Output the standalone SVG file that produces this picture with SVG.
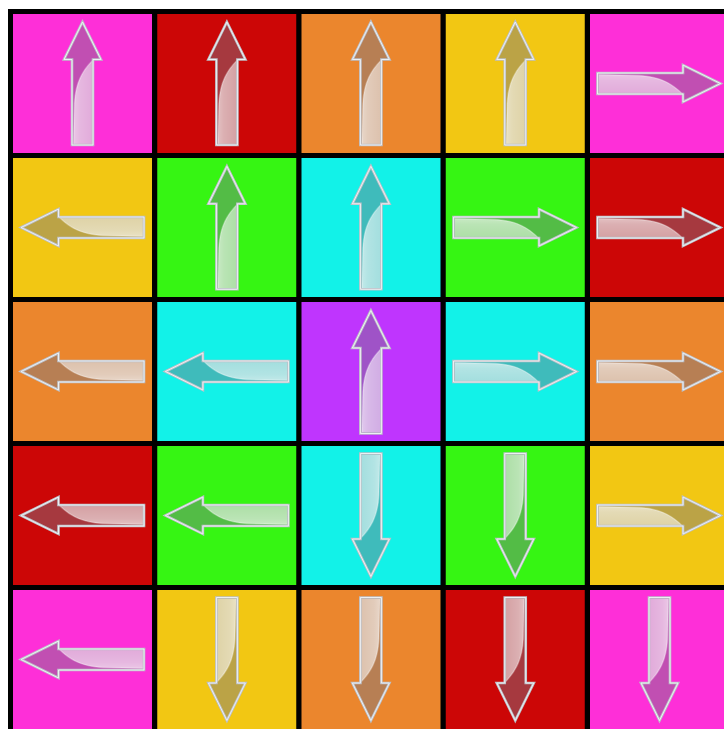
<svg xmlns="http://www.w3.org/2000/svg" xmlns:xlink="http://www.w3.org/1999/xlink" width="724" height="729" viewBox="0 0 724 729">
<style>
.mg{fill:#FE2FD8}.rd{fill:#CC0606}.or{fill:#EB862D}.ye{fill:#F2C713}.gr{fill:#36F513}.cy{fill:#12F2E8}.pu{fill:#BF35FE}
</style>
<defs>
<linearGradient id="hl" x1="0" y1="0" x2="1" y2="0">
<stop offset="0" stop-color="#fff" stop-opacity="0.68"/>
<stop offset="0.3" stop-color="#fff" stop-opacity="0.6"/>
<stop offset="1" stop-color="#fff" stop-opacity="0.52"/>
</linearGradient>
<g id="arrow">
<path d="M0,-61.5 L18.5,-24 L10.5,-24 L10.5,61.5 L-10.5,61.5 L-10.5,-24 L-18.5,-24 Z" fill="#787886" fill-opacity="0.45"/>
<path d="M10.5,-23.5 C1,-14 -7,-2 -8,20 L-9,60.5 L10.5,60.5 Z" fill="url(#hl)"/>
<path d="M10.5,-23.5 C1,-14 -7,-2 -8,20 L-9,60.5" fill="none" stroke="#fff" stroke-opacity="0.3" stroke-width="1.5"/>
<path d="M0,-61.5 L18.5,-24 L10.5,-24 L10.5,61.5 L-10.5,61.5 L-10.5,-24 L-18.5,-24 Z" fill="none" stroke="#bcc0c8" stroke-width="2.6" stroke-linejoin="miter"/>
<path d="M0,-61.5 L18.5,-24 L10.5,-24 L10.5,61.5 L-10.5,61.5 L-10.5,-24 L-18.5,-24 Z" fill="none" stroke="#f2f4f6" stroke-width="0.9" stroke-linejoin="miter"/>
</g>
</defs>
<rect x="0" y="0" width="724" height="729" fill="#fff"/>
<rect x="8" y="9" width="716" height="720" fill="#000"/>
<g id="cells">
<g id="c00"><rect class="mg" x="13" y="14" width="139" height="139"/><use xlink:href="#arrow" transform="translate(82.5,83.5)"/></g>
<g id="c01"><rect class="rd" x="157.25" y="14" width="139" height="139"/><use xlink:href="#arrow" transform="translate(226.9,83.5)"/></g>
<g id="c02"><rect class="or" x="301.5" y="14" width="139" height="139"/><use xlink:href="#arrow" transform="translate(370.9,83.5)"/></g>
<g id="c03"><rect class="ye" x="445.75" y="14" width="139" height="139"/><use xlink:href="#arrow" transform="translate(515.25,83.5)"/></g>
<g id="c04"><rect class="mg" x="590" y="14" width="134" height="139"/><use xlink:href="#arrow" transform="translate(659,83.5) rotate(90)"/></g>

<g id="c10"><rect class="ye" x="13" y="158" width="139" height="139"/><use xlink:href="#arrow" transform="translate(82.5,227.5) rotate(-90)"/></g>
<g id="c11"><rect class="gr" x="157.25" y="158" width="139" height="139"/><use xlink:href="#arrow" transform="translate(226.9,227.8)"/></g>
<g id="c12"><rect class="cy" x="301.5" y="158" width="139" height="139"/><use xlink:href="#arrow" transform="translate(370.9,227.8)"/></g>
<g id="c13"><rect class="gr" x="445.75" y="158" width="139" height="139"/><use xlink:href="#arrow" transform="translate(515,227.5) rotate(90)"/></g>
<g id="c14"><rect class="rd" x="590" y="158" width="134" height="139"/><use xlink:href="#arrow" transform="translate(659,227.5) rotate(90)"/></g>

<g id="c20"><rect class="or" x="13" y="302" width="139" height="139"/><use xlink:href="#arrow" transform="translate(82.5,371.5) rotate(-90)"/></g>
<g id="c21"><rect class="cy" x="157.25" y="302" width="139" height="139"/><use xlink:href="#arrow" transform="translate(226.9,371.5) rotate(-90)"/></g>
<g id="c22"><rect class="pu" x="301.5" y="302" width="139" height="139"/><use xlink:href="#arrow" transform="translate(370.9,372)"/></g>
<g id="c23"><rect class="cy" x="445.75" y="302" width="139" height="139"/><use xlink:href="#arrow" transform="translate(515,371.5) rotate(90)"/></g>
<g id="c24"><rect class="or" x="590" y="302" width="134" height="139"/><use xlink:href="#arrow" transform="translate(659,371.5) rotate(90)"/></g>

<g id="c30"><rect class="rd" x="13" y="446" width="139" height="139"/><use xlink:href="#arrow" transform="translate(82.5,515.5) rotate(-90)"/></g>
<g id="c31"><rect class="gr" x="157.25" y="446" width="139" height="139"/><use xlink:href="#arrow" transform="translate(226.9,515.5) rotate(-90)"/></g>
<g id="c32"><rect class="cy" x="301.5" y="446" width="139" height="139"/><use xlink:href="#arrow" transform="translate(370.9,515) rotate(180)"/></g>
<g id="c33"><rect class="gr" x="445.75" y="446" width="139" height="139"/><use xlink:href="#arrow" transform="translate(515.25,515) rotate(180)"/></g>
<g id="c34"><rect class="ye" x="590" y="446" width="134" height="139"/><use xlink:href="#arrow" transform="translate(659,515.5) rotate(90)"/></g>

<g id="c40"><rect class="mg" x="13" y="590" width="139" height="139"/><use xlink:href="#arrow" transform="translate(82.5,659.5) rotate(-90)"/></g>
<g id="c41"><rect class="ye" x="157.25" y="590" width="139" height="139"/><use xlink:href="#arrow" transform="translate(226.9,659) rotate(180)"/></g>
<g id="c42"><rect class="or" x="301.5" y="590" width="139" height="139"/><use xlink:href="#arrow" transform="translate(370.9,659) rotate(180)"/></g>
<g id="c43"><rect class="rd" x="445.75" y="590" width="139" height="139"/><use xlink:href="#arrow" transform="translate(515.25,659) rotate(180)"/></g>
<g id="c44"><rect class="mg" x="590" y="590" width="134" height="139"/><use xlink:href="#arrow" transform="translate(659.5,659) rotate(180)"/></g>
</g>
<g id="connectors"/>
</svg>
